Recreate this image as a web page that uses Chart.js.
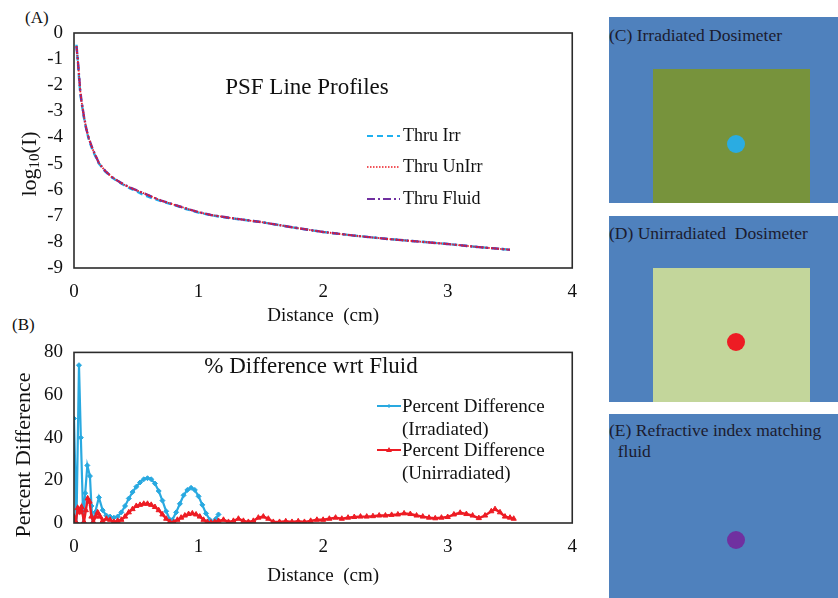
<!DOCTYPE html>
<html lang="en">
<head>
<meta charset="UTF-8">
<title>PSF Line Profiles</title>
<script src="https://cdn.jsdelivr.net/npm/chart.js"></script>
<style>
    body { margin: 0; width: 838px; height: 598px; background: #fff; position: relative; overflow: hidden;
           font-family: "Liberation Serif", "Times New Roman", serif; color: #111; }
    .abs { position: absolute; }
    #boxA { left: 0; top: 0; width: 590px; height: 330px; }
    #boxB { left: 0; top: 330px; width: 590px; height: 268px; }
    .lbl { font-size: 17px; }
    .ttl { font-size: 23px; white-space: nowrap; transform: translate(-50%, -50%); }
    .leg { font-size: 18px; white-space: nowrap; line-height: 18px; }
    .leg svg { position: absolute; }
    .ytitle { font-size: 22px; white-space: nowrap; transform: translate(-50%, -50%) rotate(-90deg); }
    .ytitle sub { font-size: 15px; vertical-align: -3px; }
    .panel { position: absolute; left: 609px; width: 240px; background: #4f81bd; overflow: hidden; }
    .panel .txt { position: absolute; left: 0; font-size: 17.5px; line-height: 21px; color: #1b1b2f; white-space: nowrap; }
    .panel .sq { position: absolute; left: 44px; width: 157px; }
    .panel .dot { position: absolute; left: 118px; width: 18px; height: 18px; border-radius: 50%; }
</style>
</head>
<body>

<div class="abs lbl" style="left:25px; top:8px;">(A)</div>
<div class="abs lbl" style="left:12px; top:315px;">(B)</div>

<div id="boxA" class="abs"><canvas id="psfChart"></canvas></div>
<div id="boxB" class="abs"><canvas id="diffChart"></canvas></div>

<div class="abs ytitle" style="left:29px; top:164px;">log<sub>10</sub>(I)</div>
<div class="abs ytitle" style="left:23px; top:455px;">Percent Difference</div>
<div class="abs ttl" style="left:307px; top:87px;">PSF Line Profiles</div>
<div class="abs ttl" style="left:311px; top:366px;">% Difference wrt Fluid</div>

<div id="legA"></div>
<div id="legB"></div>

<!-- right hand panels -->
<div class="panel" style="top:17px; height:186px;">
    <div class="txt" style="top:8px;">(C) Irradiated Dosimeter</div>
    <div class="sq" style="top:52px; height:134px; background:#77933c;"></div>
    <div class="dot" style="top:118px; background:#2aace2;"></div>
</div>
<div class="panel" style="top:216px; height:186px;">
    <div class="txt" style="top:7px;">(D) Unirradiated&nbsp; Dosimeter</div>
    <div class="sq" style="top:52px; height:134px; background:#c3d69b;"></div>
    <div class="dot" style="top:117px; background:#ed1c24;"></div>
</div>
<div class="panel" style="top:414px; height:190px;">
    <div class="txt" style="top:6px;">(E) Refractive index matching<br>&nbsp;&nbsp;fluid</div>
    <div class="dot" style="top:117px; background:#7030a0;"></div>
</div>

<script>
    // panel A: PSF line profiles, log10 of intensity vs distance (cm)
    const psfDist  = [0.02, 0.03, 0.04, 0.05, 0.06, 0.08, 0.10, 0.12, 0.15, 0.20, 0.25, 0.30, 0.35, 0.40, 0.45,
                      0.50, 0.55, 0.60, 0.65, 0.70, 0.80, 0.90, 1.00, 1.10, 1.25, 1.50, 1.75, 2.00, 2.25, 2.50,
                      2.75, 3.00, 3.25, 3.50];
    const thruFluid = [-0.5, -1.0, -1.6, -2.2, -2.6, -3.2, -3.7, -4.05, -4.45, -4.98, -5.28, -5.5, -5.66, -5.8, -5.92,
                       -6.02, -6.12, -6.22, -6.32, -6.42, -6.57, -6.72, -6.86, -6.97, -7.08, -7.24, -7.44, -7.62, -7.76, -7.88,
                       -7.98, -8.08, -8.2, -8.3];
    const thruIrr   = [-0.45, -1.05, -1.7, -2.3, -2.65, -3.25, -3.72, -4.1, -4.5, -5.0, -5.3, -5.52, -5.68, -5.82, -5.95,
                       -6.06, -6.18, -6.28, -6.36, -6.44, -6.58, -6.74, -6.88, -6.98, -7.09, -7.24, -7.44, -7.62, -7.76, -7.88,
                       -7.98, -8.08, -8.2, -8.3];
    const thruUnIrr = [-0.5, -1.0, -1.6, -2.2, -2.6, -3.2, -3.7, -4.05, -4.45, -4.98, -5.28, -5.5, -5.66, -5.8, -5.92,
                       -6.02, -6.12, -6.22, -6.32, -6.42, -6.57, -6.72, -6.86, -6.97, -7.08, -7.24, -7.44, -7.62, -7.76, -7.88,
                       -7.98, -8.08, -8.2, -8.3];

    // panel B: percent difference with respect to fluid
    const irrDist = [0.00, 0.02, 0.04, 0.055, 0.075, 0.09, 0.107, 0.128, 0.14, 0.15, 0.17, 0.20, 0.23, 0.26, 0.29,
                     0.32, 0.35, 0.38, 0.41, 0.44, 0.47, 0.50, 0.53, 0.56, 0.59, 0.62, 0.65, 0.68, 0.71, 0.74,
                     0.77, 0.79, 0.82, 0.85, 0.88, 0.91, 0.94, 0.97, 1.00, 1.03, 1.06, 1.09, 1.12, 1.14, 1.16];
    const irrDiff = [49, 0, 74, 40, 0, 14, 27, 22, 8, 0, 5, 12, 6, 3.5, 3,
                     2.5, 3, 5, 8, 11.5, 14.5, 17, 19, 20.5, 21, 20.5, 18.5, 15, 10.5, 5.5,
                     1.5, 1.5, 5, 9, 13, 15.5, 16.5, 15.5, 12.5, 8.5, 4.5, 1.5, 0.5, 2, 4];

    const unirrDist = [0.00, 0.015, 0.03, 0.045, 0.06, 0.08, 0.095, 0.11, 0.125, 0.14, 0.155, 0.175, 0.19, 0.21, 0.23,
                       0.26, 0.29, 0.32, 0.35, 0.38, 0.41, 0.44, 0.47, 0.50, 0.53, 0.56, 0.59, 0.62, 0.65, 0.68,
                       0.71, 0.74, 0.77, 0.80, 0.83, 0.86, 0.89, 0.92, 0.95, 0.98, 1.01, 1.04, 1.07, 1.10, 1.13,
                       1.16, 1.20, 1.24, 1.28, 1.32, 1.36, 1.40, 1.44, 1.48, 1.52, 1.56, 1.60, 1.65, 1.70, 1.75,
                       1.80, 1.85, 1.90, 1.95, 2.00, 2.05, 2.10, 2.15, 2.20, 2.25, 2.30, 2.35, 2.40, 2.45, 2.50,
                       2.55, 2.60, 2.65, 2.70, 2.75, 2.80, 2.85, 2.90, 2.95, 3.00, 3.05, 3.10, 3.15, 3.20, 3.25,
                       3.30, 3.35, 3.38, 3.42, 3.46, 3.50, 3.53];
    const unirrDiff = [3, 0.5, 7, 5, 7.5, 0.5, 6, 11.5, 10, 3, 0.5, 3, 5, 3, 1,
                       2, 1.5, 0.5, 1, 1.5, 3, 5, 6.5, 8, 8.5, 9, 9, 8.5, 7.5, 6,
                       4, 2, 0.5, 0.3, 1.5, 2.5, 3.5, 4.2, 4.5, 4, 3, 1.5, 0.5, 0.2, 0.5,
                       1, 1.5, 0.5, 1, 2, 1, 0.5, 1, 2.5, 3, 2, 0.5, 0.5, 0.8, 0.5,
                       0.8, 0.5, 1, 1.5, 1.5, 2, 2.5, 2, 2.5, 2.8, 3, 3, 3.2, 3.5, 3.5,
                       3.8, 4, 4.5, 4.2, 3.5, 3, 2.5, 2.2, 2.5, 2.8, 4, 4.8, 4.2, 3.5, 2.3,
                       3.5, 5.5, 6.5, 5, 3, 2.5, 2];

    const xTicks = [0, 1, 2, 3, 4];
    const psfTicks = [0, -1, -2, -3, -4, -5, -6, -7, -8, -9];
    const diffTicks = [0, 20, 40, 60, 80];

    const serif = 'Liberation Serif';
    const cyan = '#1fb0ef';
    const red = '#ed1c24';
    const purple = '#7030a0';
    const blueMark = '#29a9e0';

    function pts(xs, ys) {
        return xs.map((x, i) => ({ x: x, y: ys[i] }));
    }

    // draws the box round the plot area
    const frame = {
        id: 'frame',
        afterDraw(chart) {
            const a = chart.chartArea, c = chart.ctx;
            c.save();
            c.strokeStyle = '#2b2b2b';
            c.lineWidth = 1.6;
            c.strokeRect(a.left, a.top, a.right - a.left, a.bottom - a.top);
            c.restore();
        }
    };

    function axes(yMin, yMax, yTickList, xPadBottom, xHeight) {
        return {
            x: {
                type: 'linear', min: 0, max: 4,
                grid: { display: false, drawTicks: false },
                border: { display: false },
                afterBuildTicks: s => { s.ticks = xTicks.map(v => ({ value: v })); },
                ticks: { color: '#111', padding: 13, font: { family: serif, size: 19 } },
                title: { display: true, text: 'Distance  (cm)', color: '#111',
                         padding: { top: 0, bottom: xPadBottom }, font: { family: serif, size: 19 } },
                afterFit: s => { s.height = xHeight; }
            },
            y: {
                type: 'linear', min: yMin, max: yMax,
                grid: { display: false, drawTicks: false },
                border: { display: false },
                afterBuildTicks: s => { s.ticks = yTickList.map(v => ({ value: v })); },
                ticks: { color: '#111', padding: 11, font: { family: serif, size: 19 } },
                title: { display: false },
                afterFit: s => { s.width = 74; }
            }
        };
    }

    new Chart(document.getElementById('psfChart'), {
        type: 'scatter',
        data: {
            datasets: [
                { label: 'Thru Irr', data: pts(psfDist, thruIrr), borderColor: cyan, borderDash: [6, 4],
                  borderWidth: 2.4, showLine: true, pointRadius: 0, order: 3 },
                { label: 'Thru UnIrr', data: pts(psfDist, thruUnIrr), borderColor: red, borderDash: [1.5, 1.5],
                  borderWidth: 1.8, showLine: true, pointRadius: 0, order: 1 },
                { label: 'Thru Fluid', data: pts(psfDist, thruFluid), borderColor: purple, borderDash: [8, 3, 2, 3],
                  borderWidth: 2.4, showLine: true, pointRadius: 0, order: 2 }
            ]
        },
        options: {
            responsive: true, maintainAspectRatio: false, animation: false,
            layout: { padding: { top: 33, right: 14, left: 0, bottom: 0 } },
            plugins: { legend: { display: false }, tooltip: { enabled: false } },
            scales: axes(-9, 0, psfTicks, 3, 62)
        },
        plugins: [frame]
    });

    new Chart(document.getElementById('diffChart'), {
        type: 'scatter',
        data: {
            datasets: [
                { label: 'Percent Difference (Irradiated)', data: pts(irrDist, irrDiff),
                  borderColor: blueMark, backgroundColor: blueMark, borderWidth: 2.2, showLine: true,
                  pointStyle: 'rectRot', pointRadius: 2.5, pointBorderWidth: 1, order: 2 },
                { label: 'Percent Difference (Unirradiated)', data: pts(unirrDist, unirrDiff),
                  borderColor: red, backgroundColor: red, borderWidth: 2.4, showLine: true,
                  pointStyle: 'triangle', pointRadius: 3, pointBorderWidth: 1, order: 1 }
            ]
        },
        options: {
            responsive: true, maintainAspectRatio: false, animation: false,
            layout: { padding: { top: 21, right: 14, left: 0, bottom: 0 } },
            plugins: { legend: { display: false }, tooltip: { enabled: false } },
            scales: axes(0, 80, diffTicks, 11, 75)
        },
        plugins: [frame]
    });

    // legends placed inside the plot areas, as in the figure
    function legendRow(parent, x, y, label, svg) {
        const d = document.createElement('div');
        d.className = 'abs leg';
        d.style.left = x + 'px';
        d.style.top = y + 'px';
        d.innerHTML = svg + '<span style="position:absolute; left:36px; top:0;">' + label + '</span>';
        parent.appendChild(d);
    }
    const legA = document.getElementById('legA');
    legendRow(legA, 367, 126, 'Thru Irr',
        '<svg width="34" height="18" style="left:0;top:0"><line x1="0" y1="10" x2="33" y2="10" stroke="' + cyan + '" stroke-width="2" stroke-dasharray="6 4"/></svg>');
    legendRow(legA, 367, 157, 'Thru UnIrr',
        '<svg width="34" height="18" style="left:0;top:0"><line x1="0" y1="10" x2="33" y2="10" stroke="' + red + '" stroke-width="1.6" stroke-dasharray="1.5 1.5"/></svg>');
    legendRow(legA, 367, 189, 'Thru Fluid',
        '<svg width="34" height="18" style="left:0;top:0"><line x1="0" y1="10" x2="33" y2="10" stroke="' + purple + '" stroke-width="2.2" stroke-dasharray="8 3 2 3"/></svg>');

    const legB = document.getElementById('legB');
    function legendB(y, label1, label2, color, marker) {
        const d = document.createElement('div');
        d.className = 'abs leg';
        d.style.left = '377px';
        d.style.top = y + 'px';
        d.style.fontSize = '19px';
        d.style.lineHeight = '23px';
        d.innerHTML = '<svg width="25" height="20" style="left:0;top:2px"><line x1="0" y1="10" x2="24" y2="10" stroke="' + color + '" stroke-width="2"/>' + marker + '</svg>'
            + '<span style="position:absolute; left:25px; top:0;">' + label1 + '<br>' + label2 + '</span>';
        legB.appendChild(d);
    }
    legendB(394, 'Percent Difference', '(Irradiated)', blueMark,
        '<rect x="10.5" y="8.5" width="3" height="3" fill="' + blueMark + '" transform="rotate(45 12 10)"/>');
    legendB(438, 'Percent Difference', '(Unirradiated)', red,
        '<polygon points="12,7 15,12 9,12" fill="' + red + '"/>');
</script>

</body>
</html>
